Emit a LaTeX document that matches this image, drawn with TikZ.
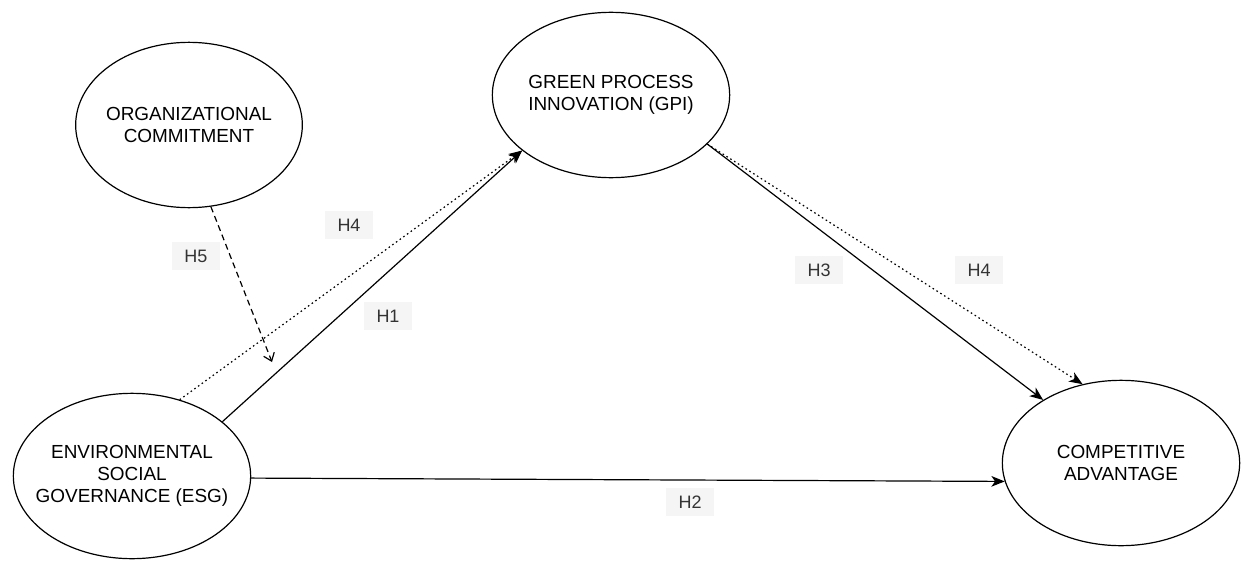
\documentclass[tikz,border=0pt]{standalone}
\usepackage{fontspec}
\setmainfont{Liberation Sans}
\usetikzlibrary{shapes.geometric,arrows.meta}
\definecolor{tagfill}{HTML}{F5F5F5}
\definecolor{tagtext}{HTML}{333333}
\newcommand{\ctext}{\fontsize{14.2}{16.4}\selectfont}
\begin{document}
\begin{tikzpicture}[x=0.75pt,y=-0.75pt,
	construct/.style={draw, ellipse, line width=0.9pt, minimum width=178pt, minimum height=124pt, inner sep=0pt},
	inside/.style={align=center, font=\ctext},
	path/.style={line width=0.9pt, -{Stealth[length=10pt,width=8pt,inset=2.8pt]}},
	mediated/.style={path, dash pattern=on 1.2pt off 2.2pt},
	moderated/.style={line width=0.9pt, dash pattern=on 4.5pt off 3pt, -{Straight Barb[length=5.5pt,width=8.5pt]}},
	hyp/.style={fill=tagfill, text=tagtext, font=\fontsize{13.5}{16}\selectfont, minimum width=36pt, minimum height=21pt, inner sep=0pt}]
		\useasboundingbox (0,0) rectangle (1241,560);
		\node [construct, minimum width=170pt, minimum height=124pt] (oc) at (189,125) {};
		\node [inside] at (oc.center) {ORGANIZATIONAL\\COMMITMENT};
		\node [construct] (gpi) at (611,95) {};
		\node [inside] at (gpi.center) {GREEN PROCESS\\INNOVATION (GPI)};
		\node [construct] (esg) at (132,476) {};
		\node [inside] at (esg.center) {ENVIRONMENTAL\\SOCIAL\\GOVERNANCE (ESG)};
		\node [construct] (ca) at (1121,463) {};
		\node [inside] at (ca.center) {COMPETITIVE\\ADVANTAGE};
		\coordinate (moderation) at (272,362);
		\draw [path] (esg.31) -- (gpi.212);
		\draw [mediated] (esg.58) -- (gpi.212);
		\draw [path] (esg.-1) -- (ca.189.5);
		\draw [path] (gpi.-27) -- (ca.141);
		\draw [mediated] (gpi.-27) -- (ca.116);
		\draw [moderated] (oc.-75) -- (moderation);
		\node [hyp] (h4a) at (349,225) {H4};
		\node [hyp] (h5) at (196,256) {H5};
		\node [hyp] (h1) at (388,316) {H1};
		\node [hyp] (h3) at (819,270) {H3};
		\node [hyp] (h4b) at (979,270) {H4};
		\node [hyp] (h2) at (690,502) {H2};
	\end{tikzpicture}
\end{document}
